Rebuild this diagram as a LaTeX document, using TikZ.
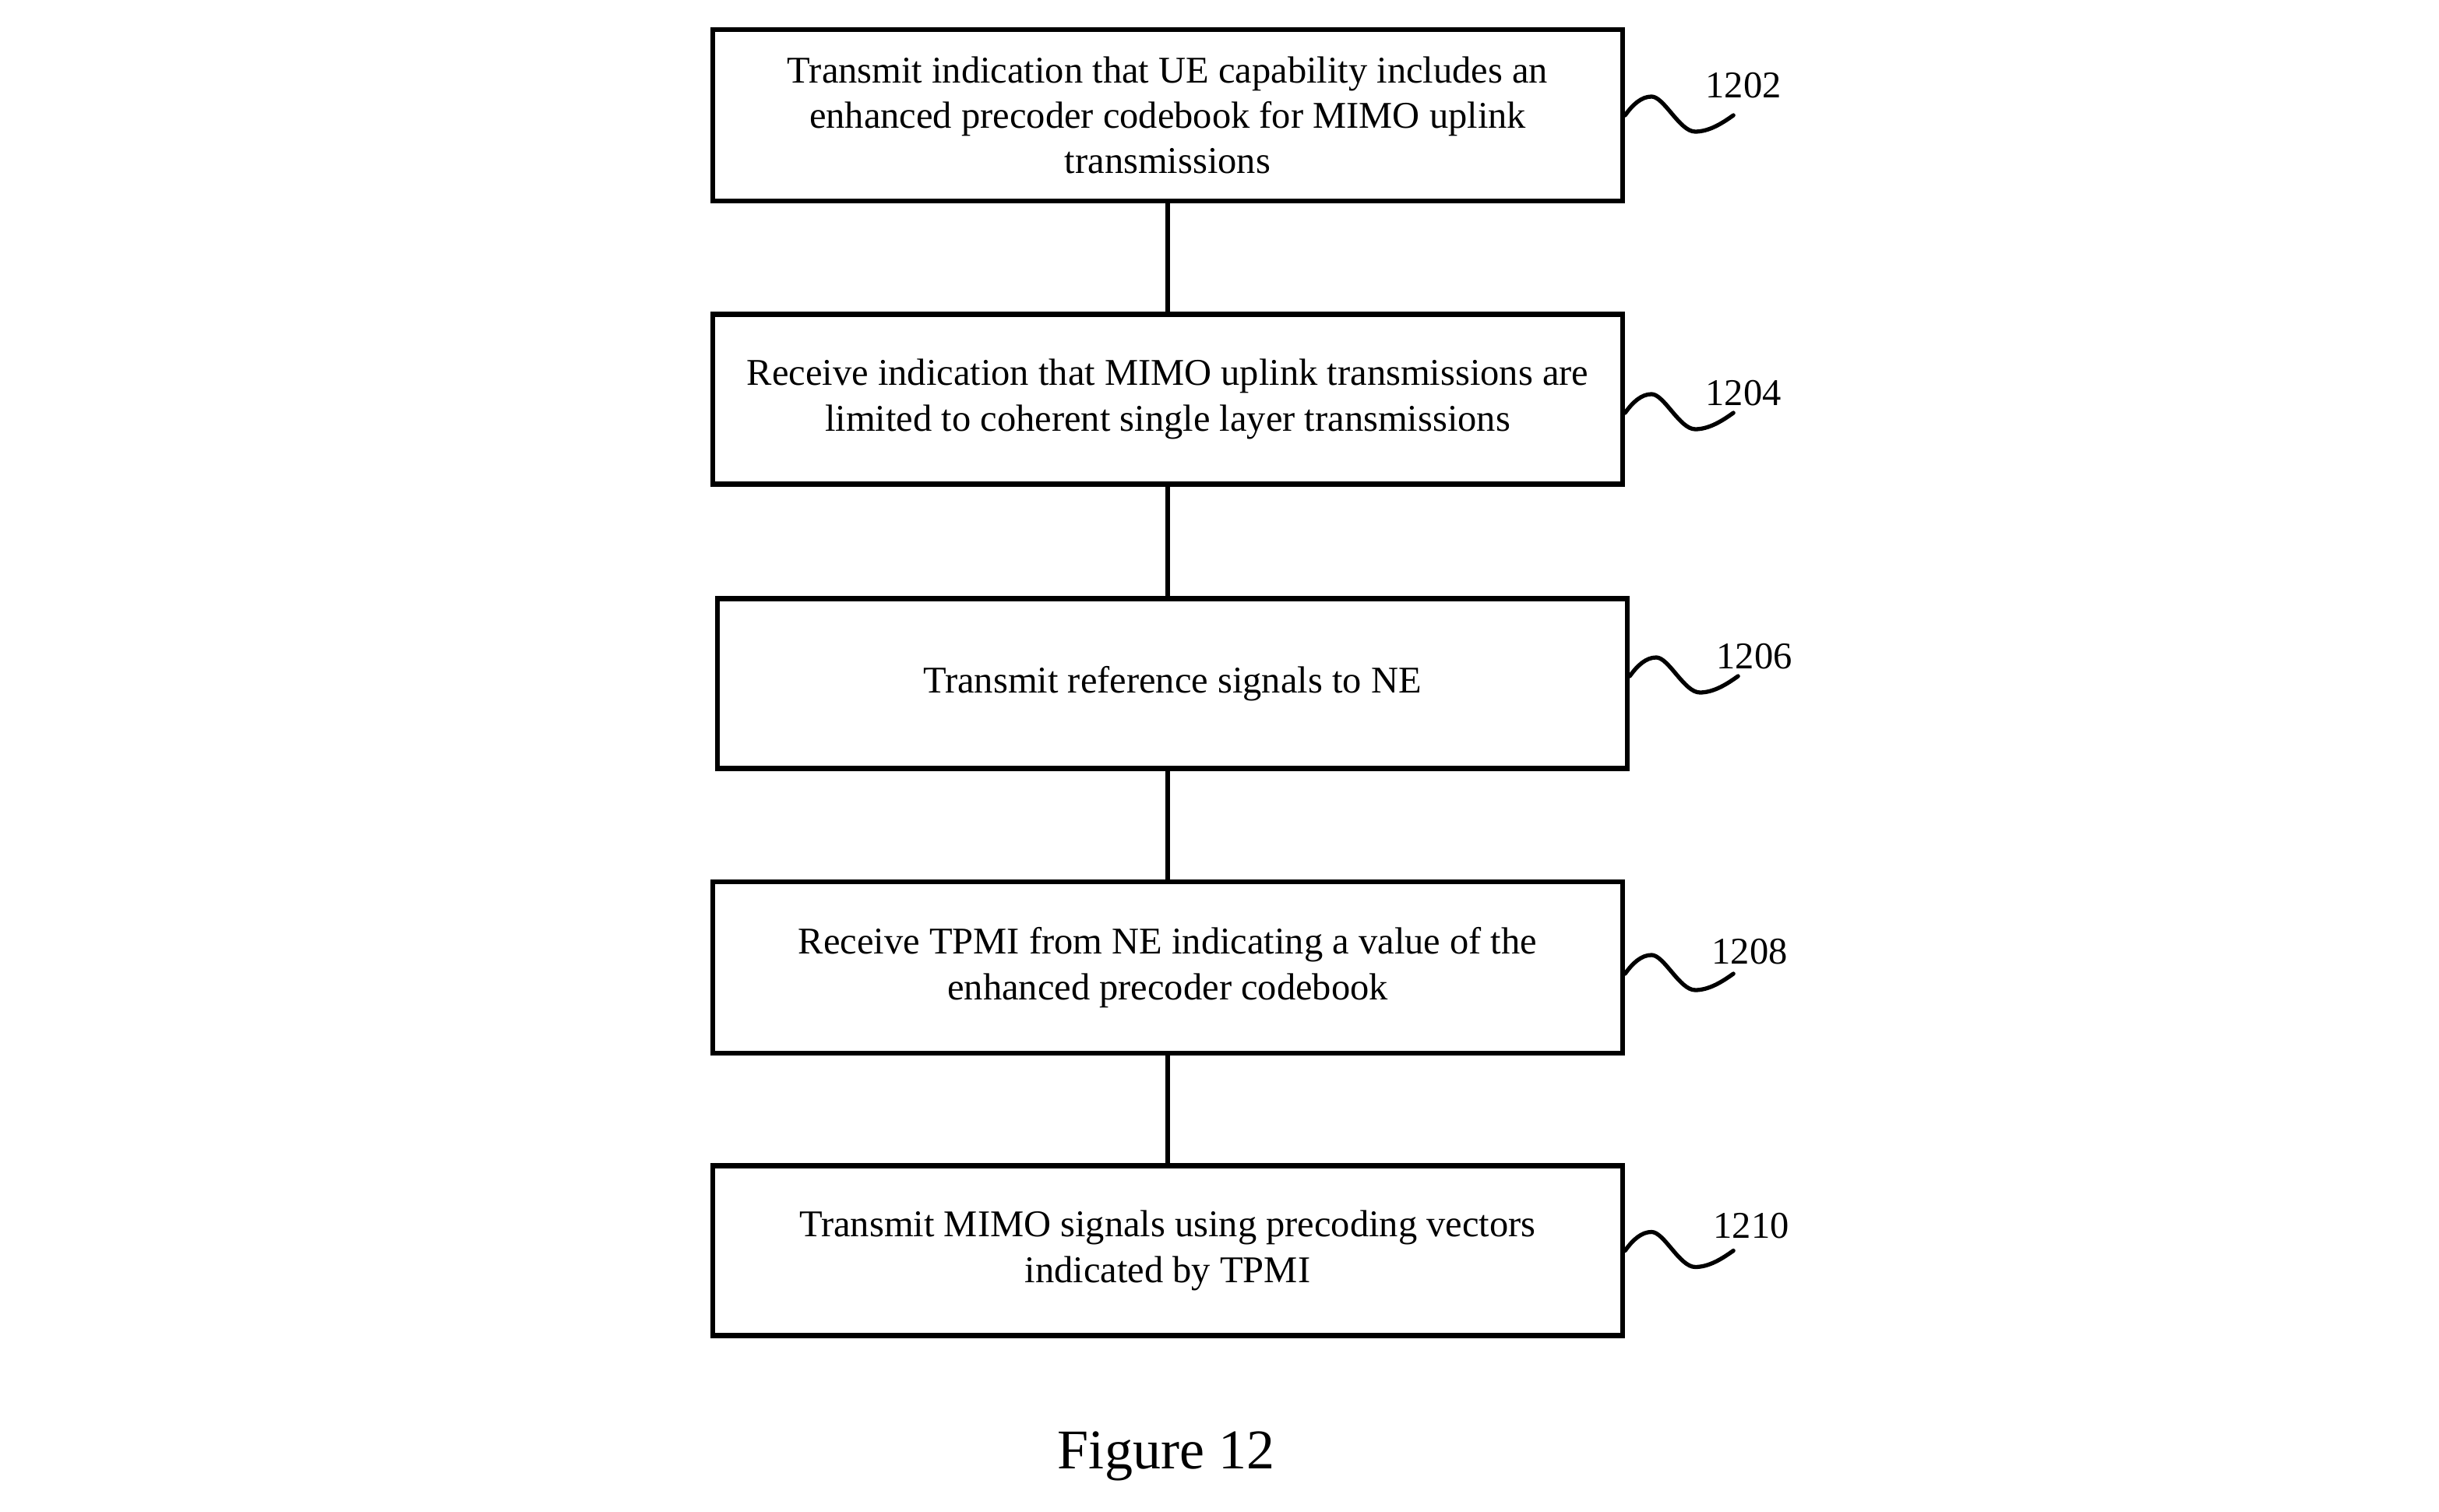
\documentclass[tikz,border=0pt]{standalone}
\usepackage{fontspec}
\setmainfont{Liberation Serif}
\begin{document}
\begin{tikzpicture}[
  stepbox/.style={draw, line width=1.8pt, minimum width=11.68cm, minimum height=2.18cm,
    inner sep=0pt, align=center, font=\fontsize{13.8}{16.6}\selectfont},
  conn/.style={line width=1.8pt},
  squig/.style={line width=1.5pt, line cap=round},
  reflabel/.style={font=\fontsize{13.8}{16.6}\selectfont, inner sep=0pt}
]
\useasboundingbox (0,0) rectangle (31.31,-19.41);

\node[stepbox, minimum height=2.20cm] (b1) at (14.99,-1.48) {Transmit indication that UE capability includes an\\enhanced precoder codebook for MIMO uplink\\transmissions};
\node[stepbox] (b2) at (14.99,-5.125) {Receive indication that MIMO uplink transmissions are\\limited to coherent single layer transmissions};
\node[stepbox] (b3) at (15.05,-8.775) {Transmit reference signals to NE};
\node[stepbox, minimum height=2.20cm] (b4) at (14.99,-12.42) {Receive TPMI from NE indicating a value of the\\enhanced precoder codebook};
\node[stepbox] (b5) at (14.99,-16.055) {Transmit MIMO signals using precoding vectors\\indicated by TPMI};

\draw[conn] (b1.south) -- (b2.north);
\draw[conn] (b2.south) -- (b2.south |- b3.north);
\draw[conn] (b3.south -| b4.north) -- (b4.north);
\draw[conn] (b4.south) -- (b5.north);

\foreach \b/\lab/\sy/\dx/\dy in {b1/1202/0/1.52/0.38, b2/1204/-0.175/1.52/0.25, b3/1206/0.095/1.60/0.25, b4/1208/-0.08/1.60/0.28, b5/1210/0/1.62/0.32}{
  \coordinate (s\b) at ([yshift=\sy cm]\b.east);
  \draw[squig] (s\b) .. controls +(0.10,0.14) and +(-0.13,0) .. ++(0.34,0.24)
     .. controls +(0.16,0) and +(-0.2,0) .. ++(0.56,-0.45)
     .. controls +(0.18,0) and +(-0.14,-0.1) .. ++(0.49,0.21);
  \node[reflabel] (l\b) at ([xshift=\dx cm, yshift=\dy cm]s\b) {\lab};
}

\node[font=\fontsize{20.5}{24}\selectfont, anchor=base] (fig) at (14.97,-18.85) {Figure 12};
\end{tikzpicture}
\end{document}
